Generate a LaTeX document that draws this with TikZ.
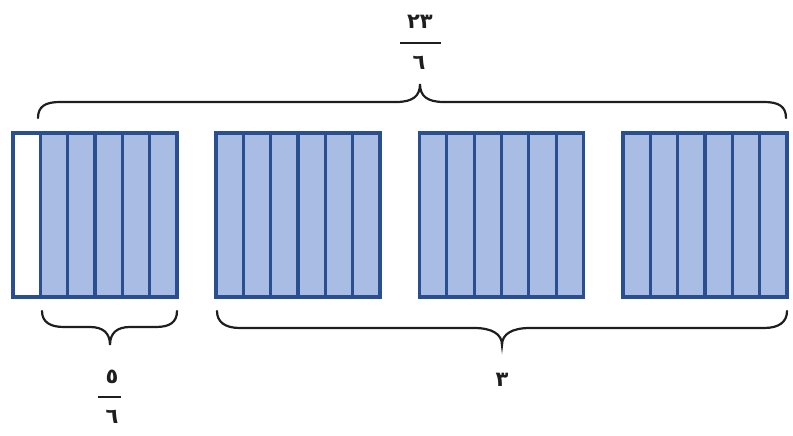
\documentclass[tikz,border=0pt]{standalone}
\usepackage{fontspec}
\newfontfamily\arabicfont[Script=Arabic]{DejaVu Sans}
\definecolor{blueline}{HTML}{2A4F90}
\definecolor{bluefill}{HTML}{A9BCE3}
\definecolor{bracecol}{HTML}{1E1E1E}
\begin{document}
\begin{tikzpicture}[x=1pt,y=-1pt,
  cell/.style={draw=blueline, line width=3.2pt, fill=bluefill},
  emptycell/.style={cell, fill=white},
  brace/.style={draw=bracecol, line width=2.2pt, line cap=round},
  fracbar/.style={draw=bracecol, line width=2.2pt},
  num/.style={font=\arabicfont\bfseries\fontsize{21}{24}\selectfont, inner sep=0pt, text=bracecol}]
\useasboundingbox (0,0) rectangle (793,436);
% blocks
\foreach \bx in {13,216,419.5,623} {
  \foreach \i in {0,...,5} {
    \pgfmathsetmacro{\xa}{\bx+\i*27.33}
    \pgfmathsetmacro{\xb}{\bx+(\i+1)*27.33}
    \draw[cell] (\xa,133) rectangle (\xb,297);
  }
}
\draw[emptycell] (13,133) rectangle (40.33,297);
% top brace
\draw[brace] (38,118) .. controls (38,106) and (46,102) .. (60,102) -- (396,102)
  .. controls (413,102) and (420,96) .. (420,84)
  .. controls (420,96) and (427,102) .. (444,102) -- (764,102)
  .. controls (778,102) and (786,106) .. (786,118);
% bottom left brace
\draw[brace] (42,311) .. controls (42,322) and (50,327) .. (64,327) -- (90,327)
  .. controls (103,327) and (110,333) .. (110,345)
  .. controls (110,333) and (117,327) .. (130,327) -- (156,327)
  .. controls (170,327) and (177,322) .. (177,311);
% bottom right brace
\draw[brace] (217,311) .. controls (217,322) and (225,328) .. (240,328) -- (474,328)
  .. controls (492,328) and (502,334) .. (502,345)
  .. controls (502,334) and (512,328) .. (530,328) -- (764,328)
  .. controls (779,328) and (787,322) .. (787,311);
% labels
\node[num] (topnum) at (420,22) {٢٣};
\coordinate (tbA) at (400,43);
\coordinate (tbB) at (441,43);
\draw[fracbar] (tbA) -- (tbB);
\node[num] (topden) at (419,63) {٦};
\node[num] (lnum) at (112,377) {٥};
\coordinate (lbA) at (98,397);
\coordinate (lbB) at (121,397);
\draw[fracbar] (lbA) -- (lbB);
\node[num] (lden) at (112,417) {٦};
\node[num] (rlabel) at (502,380) {٣};
\end{tikzpicture}
\end{document}
